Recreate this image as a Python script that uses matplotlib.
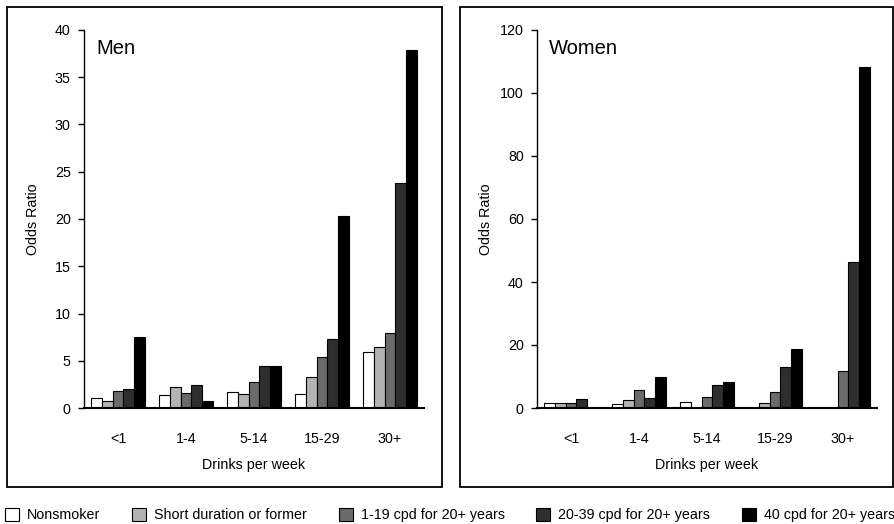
import numpy as np
import matplotlib
matplotlib.use("Agg")
import matplotlib.pyplot as plt
from matplotlib.patches import Rectangle, Patch

plt.rcParams['font.family'] = ['Liberation Sans', 'DejaVu Sans']

categories = ["<1", "1-4", "5-14", "15-29", "30+"]
series_names = ["Nonsmoker", "Short duration or former", "1-19 cpd for 20+ years",
                "20-39 cpd for 20+ years", "40 cpd for 20+ years"]
colors = ["#ffffff", "#b3b3b3", "#6b6b6b", "#2e2e2e", "#000000"]

men_nonsmoker = [1.06, 1.33, 1.72, 1.48, 5.93]
men_short = [0.7, 2.22, 1.48, 3.25, 6.45]
men_119 = [1.83, 1.59, 2.75, 5.4, 7.97]
men_2039 = [2.0, 2.43, 4.47, 7.26, 23.8]
men_40 = [7.47, 0.7, 4.47, 20.3, 37.9]

women_nonsmoker = [1.6, 1.3, 1.95, None, None]
women_short = [1.5, 2.4, None, 1.6, None]
women_119 = [1.5, 5.8, 3.6, 5.2, 11.8]
women_2039 = [2.9, 3.2, 7.2, 12.9, 46.4]
women_40 = [None, 10.0, 8.4, 18.8, 108.4]

men = [men_nonsmoker, men_short, men_119, men_2039, men_40]
women = [women_nonsmoker, women_short, women_119, women_2039, women_40]

W, H = 895, 524
fig = plt.figure(figsize=(W / 100, H / 100), dpi=100)

def px_axes(x0, y0, x1, y1):
    return fig.add_axes([x0 / W, 1 - y1 / H, (x1 - x0) / W, (y1 - y0) / H])

def draw(ax, data, title, ymax, step):
    x = np.arange(len(categories))
    bw = 0.16
    for k, s in enumerate(data):
        vals = np.array([np.nan if v is None else v for v in s], dtype=float)
        ax.bar(x + (k - 2) * bw, vals, width=bw, color=colors[k],
               edgecolor="black", linewidth=0.8, zorder=2)
    ax.set_xlim(-0.5, len(categories) - 0.5)
    ax.set_ylim(0, ymax)
    ax.set_yticks(np.arange(0, ymax + 0.1, step))
    ax.set_xticks(x)
    ax.set_xticklabels(categories)
    for sp in ["top", "right"]:
        ax.spines[sp].set_visible(False)
    ax.spines["left"].set_linewidth(1.0)
    ax.spines["bottom"].set_linewidth(1.5)
    ax.tick_params(axis="y", direction="out", length=4.5, width=1, labelsize=10.3, pad=5)
    ax.tick_params(axis="x", length=0, labelsize=10.3, pad=17)
    ax.set_xlabel("Drinks per week", fontsize=10.3, labelpad=9)
    ax.set_ylabel("Odds Ratio", fontsize=10.3)
    ax.yaxis.set_label_coords(-0.13, 0.5)
    ax.text(0.035, 0.95, title, transform=ax.transAxes, fontsize=14.5,
            ha="left", va="center")

ax1 = px_axes(84, 30, 424, 408)
draw(ax1, men, "Men", 40, 5)
ax2 = px_axes(537, 30, 877, 408)
draw(ax2, women, "Women", 120, 20)

# panel frames
for (x0, y0, x1, y1) in [(7, 7, 442, 487), (460, 7, 893, 487)]:
    fig.add_artist(Rectangle((x0 / W, 1 - y1 / H), (x1 - x0) / W, (y1 - y0) / H,
                             transform=fig.transFigure, fill=False,
                             edgecolor="black", linewidth=1.3))

handles = [Patch(facecolor=c, edgecolor="black", linewidth=0.8) for c in colors]
fig.legend(handles, series_names, ncol=5, loc="center",
           bbox_to_anchor=(450 / W, 1 - 515 / H), frameon=False,
           fontsize=10.3, handlelength=1.0, handleheight=1.0,
           handletextpad=0.55, columnspacing=2.2, borderpad=0, borderaxespad=0)

fig.savefig("out.png", dpi=100)
